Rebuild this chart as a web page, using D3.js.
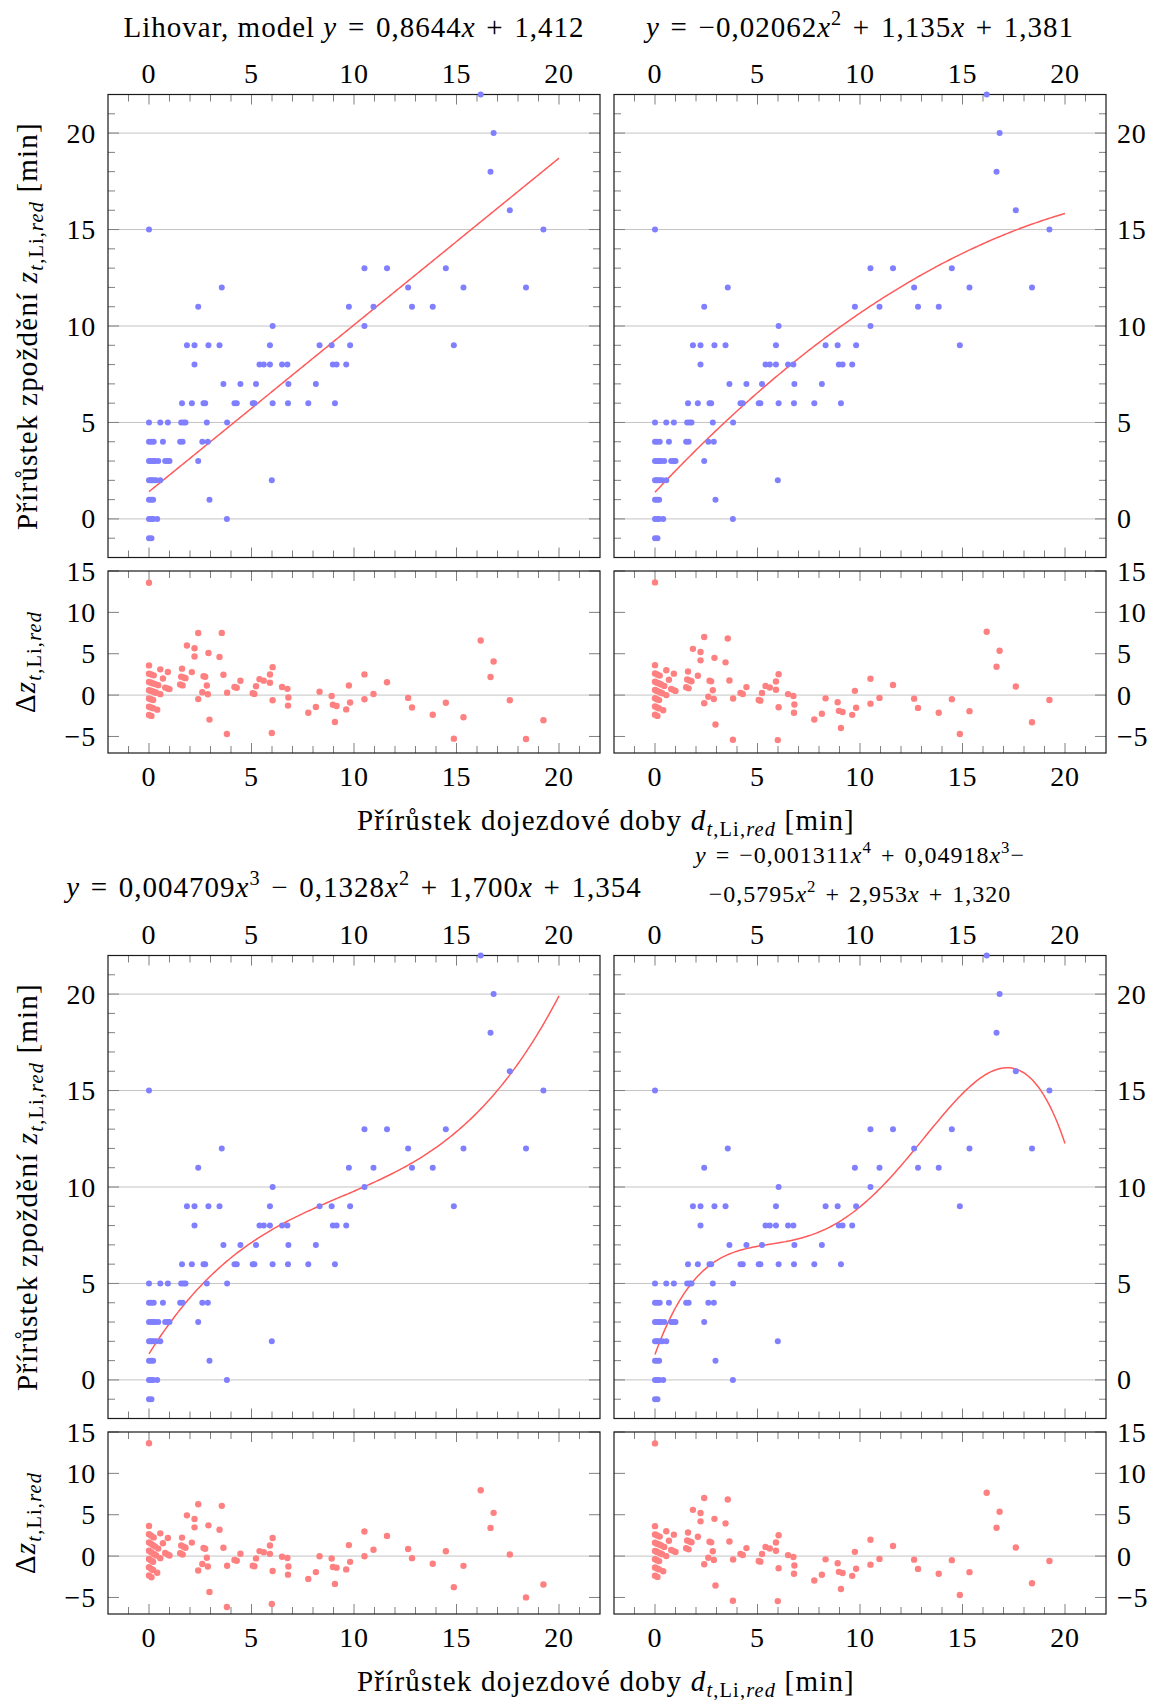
<!DOCTYPE html>
<html>
<head>
<meta charset="utf-8">
<script src="https://cdn.jsdelivr.net/npm/d3@7"></script>
<style>
  body { margin: 0; background: #fff; }
  svg text { font-family: "Liberation Serif", "DejaVu Serif", serif; fill: #000; }
</style>
</head>
<body>
<div id="chart"></div>
<script>
// measured points: travel time increment (x) and delay increment (y)
const travelGain = [
  0, 0.12,
  0, 0.1, 0.2, 0.4, 3.80,
  0, 0.1, 0.2, 2.95,
  0, 0.08, 0.15, 0.25, 0.35, 0.55, 5.99,
  0, 0.1, 0.2, 0.3, 0.45, 0.79, 0.91, 1.0, 2.40,
  0, 0.11, 0.23, 0.68, 1.52, 1.64, 2.60, 2.87,
  0, 0.55, 0.92, 1.57, 1.69, 1.78, 2.82, 3.81,
  1.61, 2.09, 2.66, 2.74, 4.17, 4.28, 5.06, 5.14, 6.03, 6.78, 7.77, 9.07,
  3.63, 4.46, 5.22, 6.80, 8.14,
  2.22, 5.39, 5.60, 5.90, 6.49, 6.75, 8.97, 9.15, 9.62,
  1.85, 2.22, 2.90, 3.44, 5.90, 8.32, 8.91, 9.81, 14.87,
  6.03, 10.51,
  2.40, 9.75, 10.95, 12.83, 13.84,
  3.55, 12.64, 15.34, 18.39,
  10.51, 11.61, 14.48,
  0, 19.24,
  17.6,
  16.66,
  16.81,
  16.18
];
const delayGain = [
  -1, -1,
  0, 0, 0, 0, 0,
  1, 1, 1, 1,
  2, 2, 2, 2, 2, 2, 2,
  3, 3, 3, 3, 3, 3, 3, 3, 3,
  4, 4, 4, 4, 4, 4, 4, 4,
  5, 5, 5, 5, 5, 5, 5, 5,
  6, 6, 6, 6, 6, 6, 6, 6, 6, 6, 6, 6,
  7, 7, 7, 7, 7,
  8, 8, 8, 8, 8, 8, 8, 8, 8,
  9, 9, 9, 9, 9, 9, 9, 9, 9,
  10, 10,
  11, 11, 11, 11, 11,
  12, 12, 12, 12,
  13, 13, 13,
  15, 15,
  16,
  18,
  20,
  22
];

// polynomial coefficients (constant term first) printed in the titles
const modelCoefs = [
  [1.412, 0.8644],
  [1.381, 1.135, -0.02062],
  [1.354, 1.700, -0.1328, 0.004709],
  [1.320, 2.953, -0.5795, 0.04918, -0.001311]
];
// which model the residual plot of each panel shows (the 4th repeats the 2nd, as in the original)
const residualModel = [0, 1, 2, 1];

const xTicks = [0, 5, 10, 15, 20];
const mainTicks = [0, 5, 10, 15, 20];
const residTicks = [-5, 0, 5, 10, 15];

const blueColor = '#7f7fff';
const redDotColor = '#ff8080';
const curveColor = '#ff5a5a';
const gridColor = '#c4c4c4';
const tickColor = '#808080';
const FS = 29;      // titles, axis labels
const TFS = 28;     // tick labels
const FS2 = 24;     // two-line title

const width = 1155, height = 1700;
const svg = d3.select('#chart').append('svg')
  .attr('width', width).attr('height', height);
svg.append('rect').attr('width', width).attr('height', height).attr('fill', '#fff');

const cols = [[108, 600], [614, 1106]];
const rowOffset = 861;
const mainBox = [94.5, 557.5];
const residBox = [571, 753];

const poly = (c, x) => c.reduce((s, a, i) => s + a * Math.pow(x, i), 0);

// text with italic parts, sub- and superscripts
function rich(sel, parts, fs) {
  let shift = 0;
  parts.forEach(p => {
    const [str, kind = ''] = Array.isArray(p) ? p : [p, ''];
    const t = sel.append('tspan').text(str);
    let target = 0;
    if (kind.includes('i')) t.attr('font-style', 'italic');
    if (kind.includes('^')) { target = -0.4 * fs; t.attr('font-size', fs * 0.7); }
    if (kind.includes('_')) { target = 0.22 * fs; t.attr('font-size', fs * 0.7); }
    if (target - shift !== 0) t.attr('dy', target - shift);
    shift = target;
  });
}

const subLi = [['t', 'i_'], [',Li,', '_'], ['red', 'i_']];
const SP = '\u2004'; // math-like wider space

function panel(idx) {
  const col = idx % 2, row = Math.floor(idx / 2);
  const off = row * rowOffset;
  const x = d3.scaleLinear().domain([-2, 22]).range(cols[col]);
  const y = d3.scaleLinear().domain([-2, 22]).range([mainBox[1] + off, mainBox[0] + off]);
  const yr = d3.scaleLinear().domain([-7, 15]).range([residBox[1] + off, residBox[0] + off]);
  const g = svg.append('g');
  const coefs = modelCoefs[idx];
  const rCoefs = modelCoefs[residualModel[idx]];

  const clipId = 'clip' + idx;
  g.append('clipPath').attr('id', clipId).append('rect')
    .attr('x', cols[col][0]).attr('y', mainBox[0] + off)
    .attr('width', cols[col][1] - cols[col][0]).attr('height', mainBox[1] - mainBox[0]);

  function frame(ys, yTicksMajor, yMinor) {
    const [y0, y1] = ys.range();
    // grid
    g.selectAll(null).data(yTicksMajor.filter(v => ys === yr ? v === 0 : true)).enter()
      .append('line')
      .attr('x1', cols[col][0]).attr('x2', cols[col][1])
      .attr('y1', d => ys(d)).attr('y2', d => ys(d))
      .attr('stroke', gridColor).attr('stroke-width', 1);
    // x ticks top & bottom
    const xt = d3.range(-1, 22);
    [y1, y0].forEach((yy, k) => {
      g.selectAll(null).data(xt).enter().append('line')
        .attr('x1', d => x(d)).attr('x2', d => x(d))
        .attr('y1', yy)
        .attr('y2', d => yy + (k === 0 ? 1 : -1) * (d % 5 === 0 ? 10 : 7))
        .attr('stroke', tickColor).attr('stroke-width', 1);
    });
    // y ticks left & right
    const yt = yMinor ? d3.range(-1, 22) : yTicksMajor;
    [cols[col][0], cols[col][1]].forEach((xx, k) => {
      g.selectAll(null).data(yt).enter().append('line')
        .attr('y1', d => ys(d)).attr('y2', d => ys(d))
        .attr('x1', xx)
        .attr('x2', d => xx + (k === 0 ? 1 : -1) * (d % 5 === 0 ? 11 : 7))
        .attr('stroke', tickColor).attr('stroke-width', 1);
    });
    g.append('rect')
      .attr('x', cols[col][0]).attr('y', y1)
      .attr('width', cols[col][1] - cols[col][0]).attr('height', y0 - y1)
      .attr('fill', 'none').attr('stroke', '#1a1a1a').attr('stroke-width', 1.2);
    // y tick labels
    g.selectAll(null).data(yTicksMajor).enter().append('text')
      .attr('x', col === 0 ? cols[col][0] - 12 : cols[col][1] + 11)
      .attr('y', d => ys(d) + 9.5)
      .attr('text-anchor', col === 0 ? 'end' : 'start')
      .attr('font-size', TFS).attr('letter-spacing', 0.8)
      .text(d => d < 0 ? '\u2212' + Math.abs(d) : d);
  }

  frame(y, mainTicks, true);
  frame(yr, residTicks, false);

  // x tick labels: top of main plot, bottom of residual plot
  g.selectAll(null).data(xTicks).enter().append('text')
    .attr('x', d => x(d)).attr('y', mainBox[0] + off - 12)
    .attr('text-anchor', 'middle').attr('font-size', TFS).attr('letter-spacing', 0.8).text(d => d);
  g.selectAll(null).data(xTicks).enter().append('text')
    .attr('x', d => x(d)).attr('y', residBox[1] + off + 33)
    .attr('text-anchor', 'middle').attr('font-size', TFS).attr('letter-spacing', 0.8).text(d => d);

  // fitted curve
  const line = d3.line().x(d => x(d)).y(d => y(poly(coefs, d)));
  g.append('path')
    .datum(d3.range(0, 20.001, 0.1))
    .attr('clip-path', `url(#${clipId})`)
    .attr('d', line)
    .attr('fill', 'none').attr('stroke', curveColor).attr('stroke-width', 1.5);

  // data points
  g.selectAll(null).data(travelGain).enter().append('circle')
    .attr('cx', d => x(d)).attr('cy', (d, i) => y(delayGain[i]))
    .attr('r', 3).attr('fill', blueColor);

  // residuals
  g.selectAll(null).data(travelGain).enter().append('circle')
    .attr('cx', d => x(d)).attr('cy', (d, i) => yr(delayGain[i] - poly(rCoefs, d)))
    .attr('r', 3.2).attr('fill', redDotColor);

  // y labels on left column
  if (col === 0) {
    const cy = (mainBox[0] + mainBox[1]) / 2 + off;
    rich(svg.append('text')
      .attr('transform', `translate(37,${cy}) rotate(-90)`)
      .attr('text-anchor', 'middle').attr('font-size', FS).attr('letter-spacing', 1.2),
      ['Přírůstek zpoždění ', ['z', 'i'], ...subLi, [' [min]', '']], FS);
    const cr = (residBox[0] + residBox[1]) / 2 + off;
    rich(svg.append('text')
      .attr('transform', `translate(35,${cr}) rotate(-90)`)
      .attr('text-anchor', 'middle').attr('font-size', FS).attr('letter-spacing', 1.2),
      ['Δ', ['z', 'i'], ...subLi], FS);
  }
}

d3.range(4).forEach(panel);

// titles
const MINUS = '\u2212';
const EQ = SP + '=' + SP, PLUS = SP + '+' + SP, MNS = SP + MINUS + SP;
function title(xx, yy, fs, parts) {
  rich(svg.append('text').attr('x', xx).attr('y', yy).attr('text-anchor', 'middle')
    .attr('font-size', fs).attr('letter-spacing', 1), parts, fs);
}
title(354, 37, FS, ['Lihovar, model ', ['y', 'i'], EQ + '0,8644', ['x', 'i'], PLUS + '1,412']);
title(860, 37, FS, [['y', 'i'], EQ + MINUS + '0,02062', ['x', 'i'], ['2', '^'], PLUS + '1,135', ['x', 'i'], PLUS + '1,381']);
title(354, 897, FS, [['y', 'i'], EQ + '0,004709', ['x', 'i'], ['3', '^'], MNS + '0,1328', ['x', 'i'], ['2', '^'],
  PLUS + '1,700', ['x', 'i'], PLUS + '1,354']);
title(860, 863, FS2, [['y', 'i'], EQ + MINUS + '0,001311', ['x', 'i'], ['4', '^'], PLUS + '0,04918', ['x', 'i'], ['3', '^'], MINUS]);
title(860, 902, FS2, [MINUS + '0,5795', ['x', 'i'], ['2', '^'], PLUS + '2,953', ['x', 'i'], PLUS + '1,320']);

// x labels
[830, 830 + rowOffset].forEach(yy => {
  rich(svg.append('text').attr('x', 606).attr('y', yy).attr('text-anchor', 'middle')
    .attr('font-size', FS).attr('letter-spacing', 1.2),
    ['Přírůstek dojezdové doby ', ['d', 'i'], ...subLi, [' [min]', '']], FS);
});
</script>
</body>
</html>
